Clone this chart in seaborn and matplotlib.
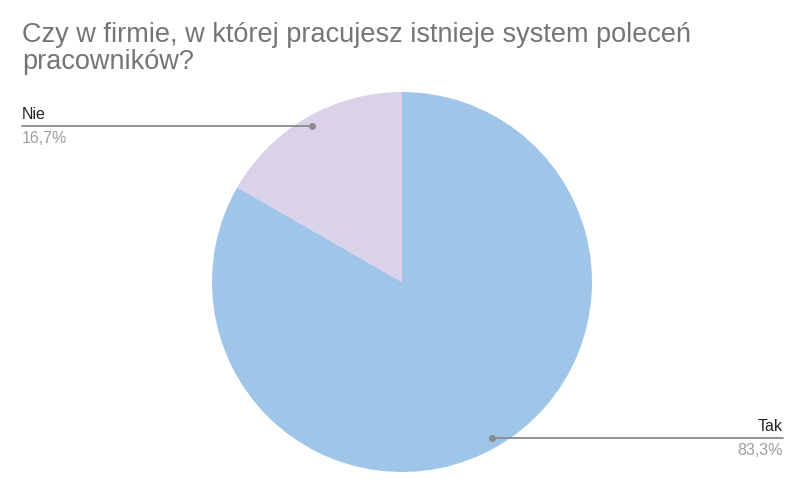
import numpy as np
import matplotlib
matplotlib.use('Agg')
import matplotlib.pyplot as plt
import seaborn as sns

labels = ['Tak', 'Nie']
shares = [83.3, 16.7]
pct_labels = ['83,3%', '16,7%']
colors = ['#9fc5e8', '#d9d2e9']
title = 'Czy w firmie, w której pracujesz istnieje system poleceń\npracowników?'

sns.set_style('white')
plt.rcParams['font.family'] = ['Liberation Sans', 'DejaVu Sans']

W, H = 800, 490
fig = plt.figure(figsize=(W / 100, H / 100), dpi=100)
# pie centre (402, 282) px, radius 190 px
cx, cy, R = 402, 282, 190
ax = fig.add_axes([(cx - R) / W, (H - cy - R) / H, 2 * R / W, 2 * R / H])
wedges, _ = ax.pie(shares, colors=colors, startangle=90, counterclock=False,
                   radius=1, wedgeprops=dict(linewidth=0))
ax.set_xlim(-1, 1)
ax.set_ylim(-1, 1)
ax.set_aspect('equal')
ax.axis('off')

for w, lab, pct in zip(wedges, labels, pct_labels):
    mid = np.deg2rad((w.theta1 + w.theta2) / 2)
    px, py = 0.95 * np.cos(mid), 0.95 * np.sin(mid)
    if px < 0:
        end = (22 - cx) / R
        ha = 'left'
    else:
        end = (783 - cx) / R
        ha = 'right'
    ax.plot([px, end], [py, py], color='#8a8a8a', lw=1.3, clip_on=False)
    ax.plot([px], [py], 'o', color='#8a8a8a', ms=4, clip_on=False)
    ax.text(end, py + 0.02, lab, ha=ha, va='bottom', fontsize=11.5,
            color='#222222', clip_on=False)
    ax.text(end, py - 0.025, pct, ha=ha, va='top', fontsize=11.5,
            color='#9e9e9e', clip_on=False)

fig.text(22 / W, 1 - 22 / H, title, ha='left', va='top', fontsize=19.5,
         color='#757575', linespacing=1.05)

fig.savefig('out.png', dpi=100, facecolor='white')
